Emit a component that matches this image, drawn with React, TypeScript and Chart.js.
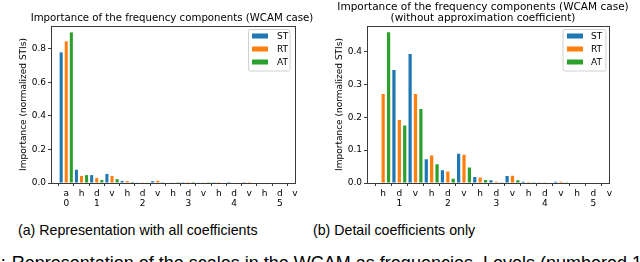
import React, { useEffect, useRef } from 'react';
import { Chart, registerables } from 'chart.js';

Chart.register(...registerables);

// ---------- data ----------
const seriesNames = ['ST', 'RT', 'AT'];
const seriesColors = ['#1f77b4', '#ff7f0e', '#2ca02c'];

// (a) all coefficients: approximation + details for levels 1..5
const categoriesA = ['a', 'h', 'd', 'v', 'h', 'd', 'v', 'h', 'd', 'v', 'h', 'd', 'v', 'h', 'd', 'v'];
const levelLabelsA = ['0', '', '1', '', '', '2', '', '', '3', '', '', '4', '', '', '5', ''];
const stA = [0.778, 0.079, 0.047, 0.054, 0.012, 0.004, 0.011, 0.003, 0.001, 0.002, 0.001, 0.0005, 0.001, 0, 0, 0];
const rtA = [0.844, 0.042, 0.03, 0.042, 0.011, 0.004, 0.013, 0.002, 0.001, 0.002, 0.0005, 0, 0.001, 0, 0, 0];
const atA = [0.897, 0.047, 0.018, 0.023, 0.006, 0.002, 0.005, 0.001, 0.0005, 0.001, 0, 0, 0, 0, 0, 0];
const yTicksA = [0, 0.2, 0.4, 0.6, 0.8];

// (b) detail coefficients only
const categoriesB = ['h', 'd', 'v', 'h', 'd', 'v', 'h', 'd', 'v', 'h', 'd', 'v', 'h', 'd', 'v'];
const levelLabelsB = ['', '1', '', '', '2', '', '', '3', '', '', '4', '', '', '5', ''];
const stB = [0, 0.344, 0.393, 0.072, 0.039, 0.089, 0.018, 0.008, 0.021, 0.004, 0.001, 0.004, 0, 0, 0];
const rtB = [0.271, 0.192, 0.271, 0.084, 0.035, 0.086, 0.017, 0.004, 0.022, 0.003, 0.001, 0.004, 0, 0, 0];
const atB = [0.459, 0.175, 0.225, 0.057, 0.013, 0.047, 0.009, 0.001, 0.008, 0.001, 0, 0.001, 0, 0, 0];
const yTicksB = [0, 0.1, 0.2, 0.3, 0.4];

const titleLinesA = ['Importance of the frequency components (WCAM case)'];
const titleLinesB = ['Importance of the frequency components (WCAM case)', '(without approximation coefficient)'];
const yAxisTitle = 'Importance (normalized STIs)';

const captionA = '(a) Representation with all coefficients';
const captionB = '(b) Detail coefficients only';
const bottomLine = 'Representation of the scales in the WCAM as frequencies. Levels (numbered 1';

// ---------- helpers ----------
const FONT = 'DejaVu Sans';
const FRAME = '#3a3a3a';

const align = (v: number) => Math.round(v - 0.5) + 0.5;

const framePlugin = {
  id: 'frameBox',
  afterDatasetsDraw(chart: any) {
    const { ctx, chartArea: a } = chart;
    ctx.save();
    ctx.strokeStyle = FRAME;
    ctx.lineWidth = 1;
    const l = align(a.left), r = align(a.right), t = align(a.top), b = align(a.bottom);
    ctx.strokeRect(l, t, r - l, b - t);
    ctx.restore();
  },
};

const boxLegendPlugin = {
  id: 'boxLegend',
  afterDraw(chart: any, _args: any, opts: any) {
    if (!opts || !opts.box) return;
    const { ctx } = chart;
    const { box, rows, patchX, patchW, patchH, textX, fontSize } = opts;
    ctx.save();
    const r = 2;
    ctx.beginPath();
    ctx.moveTo(box.x + r, box.y);
    ctx.lineTo(box.x + box.w - r, box.y);
    ctx.arcTo(box.x + box.w, box.y, box.x + box.w, box.y + r, r);
    ctx.lineTo(box.x + box.w, box.y + box.h - r);
    ctx.arcTo(box.x + box.w, box.y + box.h, box.x + box.w - r, box.y + box.h, r);
    ctx.lineTo(box.x + r, box.y + box.h);
    ctx.arcTo(box.x, box.y + box.h, box.x, box.y + box.h - r, r);
    ctx.lineTo(box.x, box.y + r);
    ctx.arcTo(box.x, box.y, box.x + r, box.y, r);
    ctx.closePath();
    ctx.fillStyle = 'rgba(255,255,255,0.8)';
    ctx.fill();
    ctx.strokeStyle = '#d0d0d0';
    ctx.lineWidth = 1;
    ctx.stroke();
    ctx.font = `${fontSize}px "${FONT}"`;
    ctx.textBaseline = 'middle';
    ctx.textAlign = 'left';
    chart.data.datasets.forEach((ds: any, i: number) => {
      const y = rows[i];
      ctx.fillStyle = ds.backgroundColor;
      ctx.fillRect(patchX, y - patchH / 2, patchW, patchH);
      ctx.fillStyle = '#000';
      ctx.fillText(ds.label, textX, y + 0.5);
    });
    ctx.restore();
  },
};

const titlePlugin = {
  id: 'panelTitle',
  afterDraw(chart: any, _args: any, opts: any) {
    if (!opts || !opts.lines) return;
    const { ctx } = chart;
    ctx.save();
    ctx.font = `${opts.size}px "${FONT}"`;
    ctx.fillStyle = '#000';
    ctx.textAlign = 'center';
    ctx.textBaseline = 'alphabetic';
    opts.lines.forEach((line: string, i: number) => {
      ctx.fillText(line, opts.x, opts.baselines[i]);
    });
    ctx.restore();
  },
};

type PanelCfg = {
  left: number;
  categories: string[];
  levels: string[];
  values: number[][];
  yTicks: number[];
  ymax: number;
  yWidth: number;
  padRight: number;
  top: number;
  xHeight: number;
  yTitlePad: number;
  title: { lines: string[]; x: number; baselines: number[]; size: number };
  legend: any;
};

function BarPanel({ cfg }: { cfg: PanelCfg }) {
  const ref = useRef<HTMLCanvasElement>(null);
  useEffect(() => {
    const labels: any[] = [''].concat(
      cfg.categories.map((c, i) => [c, cfg.levels[i]]) as any
    );
    const tickFont = { family: FONT, size: 9, lineHeight: 1.1 };
    const chart = new Chart(ref.current as HTMLCanvasElement, {
      type: 'bar',
      data: {
        labels,
        datasets: seriesNames.map((name, i) => ({
          label: name,
          data: [null, ...cfg.values[i]],
          backgroundColor: seriesColors[i],
          borderWidth: 0,
          categoryPercentage: 1,
          barPercentage: 0.6,
        })),
      },
      options: {
        responsive: false,
        animation: false,
        devicePixelRatio: 1,
        layout: { padding: { top: cfg.top, right: cfg.padRight, left: 0, bottom: 0 } },
        plugins: {
          legend: { display: false },
          tooltip: { enabled: false },
          title: { display: false },
          boxLegend: cfg.legend,
          panelTitle: cfg.title,
        } as any,
        scales: {
          x: {
            type: 'category',
            offset: false,
            grid: {
              display: true,
              drawOnChartArea: false,
              drawTicks: true,
              tickLength: 3,
              tickWidth: 1,
              tickColor: (ctx: any) => (ctx.index === 0 ? 'rgba(0,0,0,0)' : FRAME),
            },
            border: { display: true, color: FRAME, width: 1 },
            ticks: {
              autoSkip: false,
              maxRotation: 0,
              minRotation: 0,
              padding: 2.5,
              color: '#000',
              font: tickFont,
            },
            afterFit: (s: any) => {
              s.height = cfg.xHeight;
            },
          } as any,
          y: {
            type: 'linear',
            min: 0,
            max: cfg.ymax,
            afterBuildTicks: (s: any) => {
              s.ticks = cfg.yTicks.map((v) => ({ value: v }));
            },
            grid: {
              display: true,
              drawOnChartArea: false,
              drawTicks: true,
              tickLength: 3,
              tickWidth: 1,
              tickColor: FRAME,
            },
            border: { display: true, color: FRAME, width: 1 },
            ticks: {
              padding: 2,
              color: '#000',
              font: { family: FONT, size: 9 },
              callback: (v: any) => Number(v).toFixed(1),
            },
            title: {
              display: true,
              text: yAxisTitle,
              color: '#000',
              font: { family: FONT, size: 9, lineHeight: 1.2 },
              padding: { top: cfg.yTitlePad, bottom: 0 },
            },
            afterFit: (s: any) => {
              s.width = cfg.yWidth;
            },
          } as any,
        },
      },
      plugins: [framePlugin, boxLegendPlugin, titlePlugin],
    });
    return () => chart.destroy();
  }, []);
  return (
    <canvas
      ref={ref}
      width={320}
      height={212}
      style={{ position: 'absolute', left: cfg.left, top: 0, width: 320, height: 212 }}
    />
  );
}

const panelA: PanelCfg = {
  left: 0,
  categories: categoriesA,
  levels: levelLabelsA,
  values: [stA, rtA, atA],
  yTicks: yTicksA,
  ymax: 0.935,
  yWidth: 51,
  padRight: 25,
  top: 26,
  xHeight: 29,
  yTitlePad: 18.6,
  title: { lines: titleLinesA, x: 172, baselines: [20.7], size: 10.2 },
  legend: {
    box: { x: 248.5, y: 29.5, w: 41.5, h: 41.5 },
    rows: [36, 49, 62],
    patchX: 252,
    patchW: 16,
    patchH: 5,
    textX: 277,
    fontSize: 9,
  },
};

const panelB: PanelCfg = {
  left: 320,
  categories: categoriesB,
  levels: levelLabelsB,
  values: [stB, rtB, atB],
  yTicks: yTicksB,
  ymax: 0.478,
  yWidth: 47,
  padRight: 30.5,
  top: 26,
  xHeight: 29,
  yTitlePad: 14.1,
  title: { lines: titleLinesB, x: 163, baselines: [9.8, 21.4], size: 10.5 },
  legend: {
    box: { x: 243, y: 29.5, w: 43, h: 41.5 },
    rows: [36, 49, 62],
    patchX: 247,
    patchW: 16,
    patchH: 5,
    textX: 271,
    fontSize: 9,
  },
};

export default function App() {
  const capStyle: React.CSSProperties = {
    position: 'absolute',
    fontFamily: '"Liberation Sans", sans-serif',
    fontSize: 14.2,
    lineHeight: '14.2px',
    color: '#000',
    whiteSpace: 'nowrap',
  };
  const bottomStyle: React.CSSProperties = {
    ...capStyle,
    fontSize: 18,
    lineHeight: '18px',
    top: 254,
  };
  return (
    <div
      style={{
        position: 'fixed',
        left: 0,
        top: 0,
        width: 640,
        height: 262,
        overflow: 'hidden',
        background: '#fff',
      }}
    >
      <BarPanel cfg={panelA} />
      <BarPanel cfg={panelB} />
      <div style={{ ...capStyle, left: 18, top: 222.6 }}>{captionA}</div>
      <div style={{ ...capStyle, left: 313, top: 222.6 }}>{captionB}</div>
      <div style={{ ...bottomStyle, left: 0.8 }}>:</div>
      <div style={{ ...bottomStyle, left: 11.7 }}>{bottomLine}</div>
    </div>
  );
}
